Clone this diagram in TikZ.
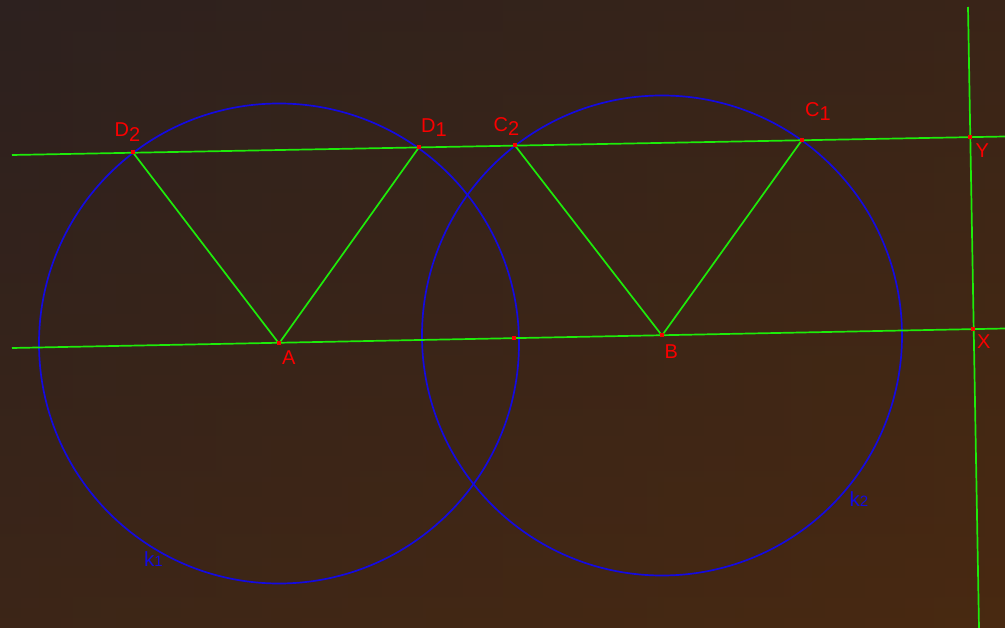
\documentclass[tikz,border=0pt]{standalone}
\usepackage{fontspec}
\setmainfont{Liberation Sans}
\usetikzlibrary{calc}
\definecolor{bgtl}{RGB}{45,33,31}
\definecolor{bgbot}{RGB}{76,43,16}
\definecolor{bgright}{RGB}{70,40,18}
\definecolor{gline}{RGB}{30,235,10}
\definecolor{bcirc}{RGB}{20,10,225}
\definecolor{rpt}{RGB}{250,0,0}
\begin{document}
\begin{tikzpicture}[x=1pt,y=-1pt,
  gl/.style={draw=gline,line width=1.7pt},
  circ/.style={draw=bcirc,line width=1.7pt},
  pt/.style={fill=rpt},
  lab/.style={text=rpt,font=\fontsize{20}{20}\selectfont,inner sep=0pt,anchor=base west},
  klab/.style={text=bcirc,font=\fontsize{20.5}{20.5}\selectfont,inner sep=0pt,anchor=base west}]
\useasboundingbox (0,0) rectangle (1005,628);
\shade[top color=bgtl,bottom color=bgbot] (0,0) rectangle (1005,628);
\shade[left color=bgtl,right color=bgright,opacity=0.5] (0,0) rectangle (1005,628);
% points
\coordinate (A) at (279,343.5);
\coordinate (B) at (662,335.5);
\coordinate (D2) at (133,152.5);
\coordinate (D1) at (419,147.3);
\coordinate (C2) at (515,145.5);
\coordinate (C1) at (802,140);
\coordinate (Y) at (970,137.5);
\coordinate (X) at (973,329);
\coordinate (M) at (513.5,338.5);
\coordinate (ul) at (12,155);
\coordinate (ur) at (1005,136.5);
\coordinate (ll) at (12,348);
\coordinate (lr) at (1005,328.5);
\coordinate (vt) at (968,7);
\coordinate (vb) at (979,628);
% circles
\draw[circ] (A) circle[radius=240pt];
\draw[circ] (B) circle[radius=240pt];
% lines
\draw[gl] (ul) -- (ur);
\draw[gl] (ll) -- (lr);
\draw[gl] (vt) -- (vb);
\draw[gl] (D2) -- (A) -- (D1);
\draw[gl] (C2) -- (B) -- (C1);
% red points
\foreach \p in {A,B,D2,D1,C2,C1,Y,X,M}
  \fill[pt] ($(\p)+(-2,-2)$) rectangle ($(\p)+(2,2)$);
% labels
\node[lab] (lD2) at (114.5,137) {D\raisebox{-5pt}{2}};
\node[lab] (lD1) at (421,132.5) {D\raisebox{-4pt}{1}};
\node[lab] (lC2) at (493.5,131.7) {C\raisebox{-4pt}{2}};
\node[lab] (lC1) at (805,116.7) {C\raisebox{-4pt}{1}};
\node[lab] (lY) at (975.5,157.7) {Y};
\node[lab] (lX) at (977,348.3) {X};
\node[lab] (lA) at (282,365) {A};
\node[lab] (lB) at (664.5,359) {B};
\node[klab] (lk1) at (144,566.7) {k{\fontsize{15}{15}\selectfont 1}};
\node[klab] (lk2) at (849.5,506) {k{\fontsize{15}{15}\selectfont 2}};
\end{tikzpicture}
\end{document}
